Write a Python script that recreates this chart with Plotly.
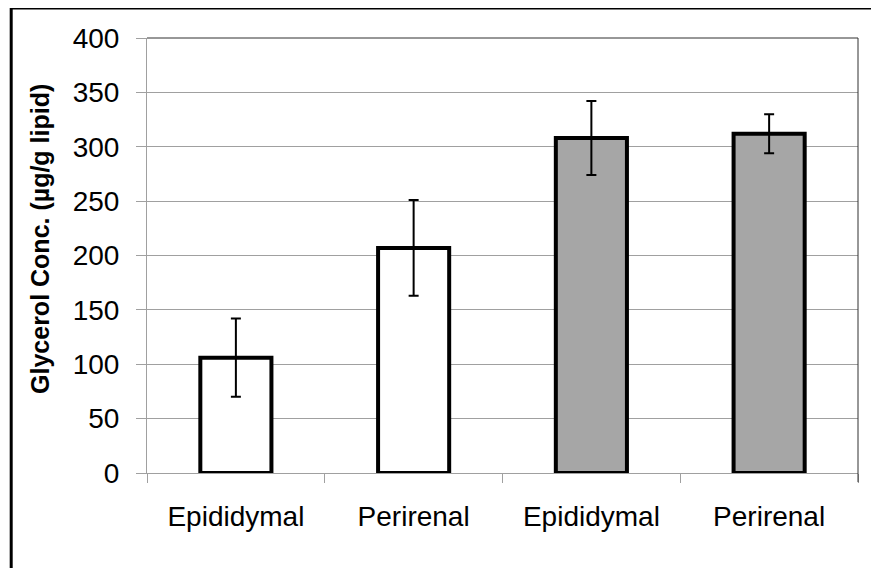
import plotly.graph_objects as go

# data
depots = ["Epididymal", "Perirenal", "Epididymal", "Perirenal"]
glycerol = [106, 207, 308, 312]
glycerol_err = [36, 44, 34, 18]
bar_colors = ["white", "white", "#a6a6a6", "#a6a6a6"]
y_ticks = [0, 50, 100, 150, 200, 250, 300, 350, 400]

xpos = list(range(len(depots)))

fig = go.Figure()
fig.add_trace(go.Bar(
    x=xpos, y=glycerol,
    width=0.4,
    marker=dict(color=bar_colors, line=dict(color="black", width=4)),
    error_y=dict(type="data", array=glycerol_err, color="black",
                 thickness=2, width=5),
))

# page body has an 8px margin, so the figure is 8px smaller
fig.update_layout(
    width=871, height=560,
    margin=dict(l=139, r=21, t=30, b=95),
    paper_bgcolor="white", plot_bgcolor="white",
    font=dict(family="Liberation Sans, Arial", color="black", size=28),
    showlegend=False,
    xaxis=dict(
        range=[-0.5, 3.5],
        tickmode="array", tickvals=xpos, ticktext=depots,
        ticks="", showgrid=False, zeroline=False,
        showline=True, linecolor="#a0a0a0", linewidth=1,
        ticklabelstandoff=18,
        minor=dict(tickmode="array", tickvals=[-0.5, 0.5, 1.5, 2.5, 3.5],
                   ticks="outside", ticklen=9, tickcolor="#a0a0a0",
                   showgrid=False),
    ),
    yaxis=dict(
        range=[0, 400],
        tickmode="array", tickvals=y_ticks,
        ticks="outside", ticklen=10, tickcolor="#a0a0a0",
        showgrid=True, gridcolor="#a0a0a0", gridwidth=1,
        zeroline=False,
        showline=True, linecolor="#a0a0a0", linewidth=1,
        ticklabelstandoff=11,
    ),
)

# dark top/right frame of the plot area
fig.add_shape(type="line", xref="paper", yref="paper", x0=0, x1=1, y0=1, y1=1,
              line=dict(color="#303030", width=1))
fig.add_shape(type="line", xref="paper", yref="paper", x0=1, x1=1, y0=-0.021, y1=1,
              line=dict(color="#303030", width=1))

# outer chart border (bottom/right fall outside the picture)
fig.add_shape(type="rect", xref="paper", yref="paper",
              x0=-0.191, x1=1.3, y0=-0.4, y1=1.069,
              line=dict(color="black", width=3))

fig.add_annotation(
    text="<b>Glycerol Conc. (µg/g lipid)</b>",
    xref="paper", yref="paper", x=-0.1505, y=0.538,
    textangle=-90, showarrow=False,
    xanchor="center", yanchor="middle",
    font=dict(size=25, color="black"),
)

fig.write_html("out.html")
